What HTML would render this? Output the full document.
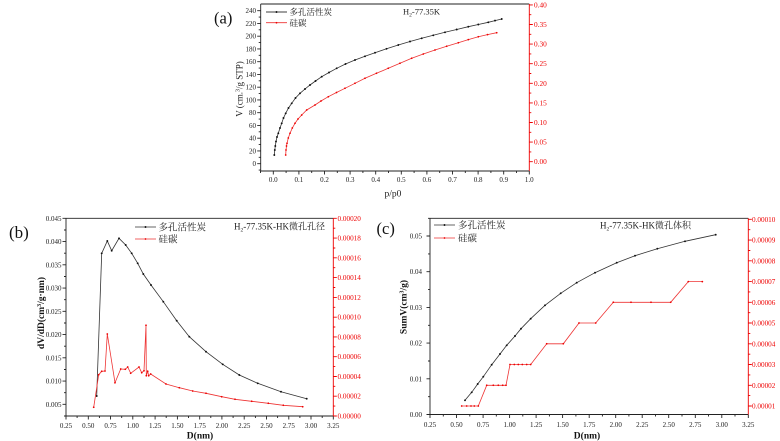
<!DOCTYPE html>
<html><head><meta charset="utf-8"><style>
html,body{margin:0;padding:0;background:#fff;}
svg{display:block;}
text{font-family:"Liberation Serif","Noto Serif CJK SC",serif;}
</style></head><body>
<svg width="780" height="441" viewBox="0 0 780 441" xmlns="http://www.w3.org/2000/svg">
<defs>
<marker id="mk" viewBox="-1.5 -1.5 3 3" markerWidth="2.6" markerHeight="2.6" markerUnits="userSpaceOnUse"><circle r="1.1" fill="#111"/></marker>
<marker id="mr" viewBox="-1.5 -1.5 3 3" markerWidth="2.4" markerHeight="2.4" markerUnits="userSpaceOnUse"><circle r="1.1" fill="#e00"/></marker>
</defs>
<rect width="780" height="441" fill="#fff"/>

<!-- ================= (a) ================= -->
<text x="214" y="23.5" font-size="16.5" fill="#111">(a)</text>
<g fill="none" stroke-width="0.9">
<path d="M260.7 4 H529.3 M260.7 4 V171 H529.3" stroke="#222"/>
<path d="M529.3 4 V171" stroke="#e00"/>
<path stroke="#222" d="M273.3 171v3.5M298.9 171v3.5M324.5 171v3.5M350.1 171v3.5M375.7 171v3.5M401.3 171v3.5M426.9 171v3.5M452.5 171v3.5M478.1 171v3.5M503.7 171v3.5M529.3 171v3.5
M260.5 171v2M286.1 171v2M311.7 171v2M337.3 171v2M362.9 171v2M388.5 171v2M414.1 171v2M439.7 171v2M465.3 171v2M490.9 171v2M516.5 171v2
M260.7 163.7h-3.5M260.7 150.95h-3.5M260.7 138.2h-3.5M260.7 125.45h-3.5M260.7 112.7h-3.5M260.7 99.95h-3.5M260.7 87.2h-3.5M260.7 74.45h-3.5M260.7 61.7h-3.5M260.7 48.95h-3.5M260.7 36.2h-3.5M260.7 23.45h-3.5M260.7 10.7h-3.5
M260.7 170.1h-2M260.7 157.3h-2M260.7 144.6h-2M260.7 131.8h-2M260.7 119.1h-2M260.7 106.3h-2M260.7 93.6h-2M260.7 80.8h-2M260.7 68.1h-2M260.7 55.3h-2M260.7 42.6h-2M260.7 29.8h-2M260.7 17.1h-2"/>
<path stroke="#e00" d="M529.3 161.7h3.5M529.3 142.1h3.5M529.3 122.5h3.5M529.3 102.9h3.5M529.3 83.3h3.5M529.3 63.7h3.5M529.3 44.1h3.5M529.3 24.5h3.5M529.3 4.9h3.5
M529.3 151.9h2M529.3 132.3h2M529.3 112.7h2M529.3 93.1h2M529.3 73.5h2M529.3 53.9h2M529.3 34.3h2M529.3 14.7h2"/>
</g>
<g font-size="7" fill="#222" text-anchor="middle">
<text x="273.3" y="182">0.0</text><text x="298.9" y="182">0.1</text><text x="324.5" y="182">0.2</text><text x="350.1" y="182">0.3</text><text x="375.7" y="182">0.4</text><text x="401.3" y="182">0.5</text><text x="426.9" y="182">0.6</text><text x="452.5" y="182">0.7</text><text x="478.1" y="182">0.8</text><text x="503.7" y="182">0.9</text><text x="529.3" y="182">1.0</text>
</g>
<g font-size="7" fill="#222" text-anchor="end">
<text x="256" y="166.1">0</text><text x="256" y="153.35">20</text><text x="256" y="140.6">40</text><text x="256" y="127.85">60</text><text x="256" y="115.1">80</text><text x="256" y="102.35">100</text><text x="256" y="89.6">120</text><text x="256" y="76.85">140</text><text x="256" y="64.1">160</text><text x="256" y="51.35">180</text><text x="256" y="38.6">200</text><text x="256" y="25.85">220</text><text x="256" y="13.1">240</text>
</g>
<g font-size="7.3" fill="#e00">
<text x="534" y="164.2">0.00</text><text x="534" y="144.6">0.05</text><text x="534" y="125">0.10</text><text x="534" y="105.4">0.15</text><text x="534" y="85.8">0.20</text><text x="534" y="66.2">0.25</text><text x="534" y="46.6">0.30</text><text x="534" y="27">0.35</text><text x="534" y="7.4">0.40</text>
</g>
<text x="393" y="196.5" font-size="9.5" fill="#222" text-anchor="middle">p/p0</text>
<text transform="translate(242.5,89) rotate(-90)" font-size="9" fill="#222" text-anchor="middle">V (cm.<tspan font-size="6" dy="-3">3</tspan><tspan dy="3">/g STP)</tspan></text>
<!-- legend a -->
<path d="M266 12H287" stroke="#333" stroke-width="0.8" marker-mid="url(#mk)"/>
<polyline points="266,12 276.5,12 287,12" fill="none" stroke="#333" stroke-width="0.8" marker-mid="url(#mk)"/>
<text x="289.5" y="15.2" font-size="8.5" fill="#222">多孔活性炭</text>
<polyline points="266,22.7 276.5,22.7 287,22.7" fill="none" stroke="#e33" stroke-width="0.8" marker-mid="url(#mr)"/>
<text x="289.5" y="25.9" font-size="8.5" fill="#222">硅碳</text>
<text x="403" y="14.5" font-size="8.5" fill="#222">H<tspan font-size="5.5" dy="2">2</tspan><tspan dy="-2">-77.35K</tspan></text>
<!-- series a -->
<polyline fill="none" stroke="#333" stroke-width="0.8" marker-start="url(#mk)" marker-mid="url(#mk)" marker-end="url(#mk)" points="274.3,155 274.8,150 275.3,146 276,141.5 277,137 278.3,133.3 280,128 281.7,123.3 283.5,118 285.7,113.3 288.5,108 291.7,103.3 295.5,98 300,93.3 305,89 310,85 315.5,81 321.7,76.7 329,72.5 336.7,68.3 345.5,64 355,60 365,56.3 375,52.7 386.5,48.8 398.3,45 410,41.5 421.7,38.3 433.3,35.3 445,32.3 456.7,29.5 468.3,26.7 478.3,24.5 488.3,22.3 495,20.6 501.7,19"/>
<polyline fill="none" stroke="#e33" stroke-width="0.8" marker-start="url(#mr)" marker-mid="url(#mr)" marker-end="url(#mr)" points="285.7,155 286,150 286.5,146 287,143.3 288.3,138 290,133.3 292.3,128 295,123.3 298,119 301.7,115 306.7,110 315,105 321,101 328.3,96.7 336.5,92.5 345,88.3 355,83.3 365,78.3 376.5,73.3 388.3,68.3 400,63.3 411.7,58.3 423.3,54 435,50 446.7,46.2 458.3,42.7 468.3,39.6 478.3,36.7 487.5,34.6 496.7,32.7"/>

<!-- ================= (b) ================= -->
<text x="9" y="238" font-size="17" fill="#111">(b)</text>
<g fill="none" stroke-width="0.9">
<path d="M66 218.3 H333.3 M66 218.3 V416 H333.3" stroke="#222"/>
<path d="M333.3 218.3 V416" stroke="#e00"/>
<path stroke="#222" d="M66 416v3.5M88.3 416v3.5M110.5 416v3.5M132.8 416v3.5M155.1 416v3.5M177.4 416v3.5M199.7 416v3.5M221.9 416v3.5M244.2 416v3.5M266.5 416v3.5M288.8 416v3.5M311 416v3.5M333.3 416v3.5
M77.1 416v2M99.4 416v2M121.7 416v2M144 416v2M166.2 416v2M188.5 416v2M210.8 416v2M233.1 416v2M255.4 416v2M277.6 416v2M299.9 416v2M322.2 416v2
M66 404.35h-3.5M66 381.1h-3.5M66 357.85h-3.5M66 334.6h-3.5M66 311.35h-3.5M66 288.1h-3.5M66 264.85h-3.5M66 241.6h-3.5M66 218.35h-3.5
M66 416h-2M66 392.7h-2M66 369.5h-2M66 346.2h-2M66 323h-2M66 299.7h-2M66 276.5h-2M66 253.2h-2M66 230h-2"/>
<path stroke="#e00" d="M333.3 416h3.5M333.3 396.2h3.5M333.3 376.5h3.5M333.3 356.7h3.5M333.3 336.9h3.5M333.3 317.2h3.5M333.3 297.4h3.5M333.3 277.6h3.5M333.3 257.8h3.5M333.3 238.1h3.5M333.3 218.3h3.5
M333.3 406.1h2M333.3 386.3h2M333.3 366.6h2M333.3 346.8h2M333.3 327h2M333.3 307.3h2M333.3 287.5h2M333.3 267.7h2M333.3 248h2M333.3 228.2h2"/>
</g>
<g font-size="7" fill="#222" text-anchor="middle">
<text x="66" y="428">0.25</text><text x="88.3" y="428">0.50</text><text x="110.5" y="428">0.75</text><text x="132.8" y="428">1.00</text><text x="155.1" y="428">1.25</text><text x="177.4" y="428">1.50</text><text x="199.7" y="428">1.75</text><text x="221.9" y="428">2.00</text><text x="244.2" y="428">2.25</text><text x="266.5" y="428">2.50</text><text x="288.8" y="428">2.75</text><text x="311" y="428">3.00</text><text x="333.3" y="428">3.25</text>
</g>
<g font-size="7" fill="#222" text-anchor="end">
<text x="61.5" y="406.8">0.005</text><text x="61.5" y="383.5">0.010</text><text x="61.5" y="360.3">0.015</text><text x="61.5" y="337">0.020</text><text x="61.5" y="313.8">0.025</text><text x="61.5" y="290.5">0.030</text><text x="61.5" y="267.3">0.035</text><text x="61.5" y="244">0.040</text><text x="61.5" y="220.8">0.045</text>
</g>
<g font-size="7.2" fill="#e00">
<text x="337.5" y="418.5">0.00000</text><text x="337.5" y="398.7">0.00002</text><text x="337.5" y="379">0.00004</text><text x="337.5" y="359.2">0.00006</text><text x="337.5" y="339.4">0.00008</text><text x="337.5" y="319.7">0.00010</text><text x="337.5" y="299.9">0.00012</text><text x="337.5" y="280.1">0.00014</text><text x="337.5" y="260.3">0.00016</text><text x="337.5" y="240.6">0.00018</text><text x="337.5" y="220.8">0.00020</text>
</g>
<text x="200" y="438.5" font-size="9.5" font-weight="bold" fill="#111" text-anchor="middle">D(nm)</text>
<text transform="translate(44,313) rotate(-90)" font-size="9.5" font-weight="bold" fill="#111" text-anchor="middle">dV/dD(cm<tspan font-size="6" dy="-3">3</tspan><tspan dy="3">/g·nm)</tspan></text>
<!-- legend b -->
<polyline points="135,227 145.5,227 156,227" fill="none" stroke="#333" stroke-width="0.8" marker-mid="url(#mk)"/>
<text x="158.5" y="230.5" font-size="9.5" fill="#222">多孔活性炭</text>
<polyline points="135,239 145.5,239 156,239" fill="none" stroke="#e33" stroke-width="0.8" marker-mid="url(#mr)"/>
<text x="158.5" y="242.5" font-size="9.5" fill="#222">硅碳</text>
<text x="234" y="229.5" font-size="9" fill="#222">H<tspan font-size="5.5" dy="2">2</tspan><tspan dy="-2">-77.35K-HK微孔孔径</tspan></text>
<!-- series b -->
<polyline fill="none" stroke="#333" stroke-width="0.8" marker-start="url(#mk)" marker-mid="url(#mk)" marker-end="url(#mk)" points="96.7,396 101.7,253.3 107.3,241 111.7,250.7 119,238.3 125.7,245 131.7,253.3 137.7,263.3 143.3,274 151,285 163.3,301.7 176.7,320.7 189.3,336.7 206,351.7 222.7,364.3 239.3,375 257.7,383.3 281,391.7 306.7,398.7"/>
<polyline fill="none" stroke="#e33" stroke-width="0.8" marker-start="url(#mr)" marker-mid="url(#mr)" marker-end="url(#mr)" points="93.7,407.3 98.7,374.7 101.7,371.3 105,371 107.3,334 115,382.7 120.7,369 125.3,369.3 127.7,367 130.7,373.3 139,367 141.7,372.7 144,370.7 146,325.3 146.3,375.7 147.7,371.3 148.7,375.7 150.7,374 166,384 179.3,387.7 192.7,391 206,393.3 221.7,396.7 235,399.3 251.7,401.3 268.3,403.3 283.3,405.3 302.7,406.7"/>

<!-- ================= (c) ================= -->
<text x="376.5" y="234" font-size="16.5" fill="#111">(c)</text>
<g fill="none" stroke-width="0.9">
<path d="M430 218.3 H748.3 M430 218.3 V414.5 H748.3" stroke="#222"/>
<path d="M748.3 218.3 V414.5" stroke="#e00"/>
<path stroke="#222" d="M430 414.5v3.5M456.5 414.5v3.5M483.1 414.5v3.5M509.6 414.5v3.5M536.1 414.5v3.5M562.6 414.5v3.5M589.2 414.5v3.5M615.7 414.5v3.5M642.2 414.5v3.5M668.7 414.5v3.5M695.3 414.5v3.5M721.8 414.5v3.5M748.3 414.5v3.5
M443.3 414.5v2M469.8 414.5v2M496.3 414.5v2M522.8 414.5v2M549.4 414.5v2M575.9 414.5v2M602.4 414.5v2M628.9 414.5v2M655.5 414.5v2M682 414.5v2M708.5 414.5v2M735 414.5v2
M430 414.5h-3.5M430 378.8h-3.5M430 343.1h-3.5M430 307.4h-3.5M430 271.7h-3.5M430 236h-3.5
M430 396.7h-2M430 361h-2M430 325.3h-2M430 289.6h-2M430 253.9h-2M430 218.3h-2"/>
<path stroke="#e00" d="M748.3 406h3.5M748.3 385.3h3.5M748.3 364.5h3.5M748.3 343.8h3.5M748.3 323h3.5M748.3 302.3h3.5M748.3 281.6h3.5M748.3 260.8h3.5M748.3 240.1h3.5M748.3 219.3h3.5
M748.3 395.6h2M748.3 374.9h2M748.3 354.2h2M748.3 333.4h2M748.3 312.7h2M748.3 291.9h2M748.3 271.2h2M748.3 250.5h2M748.3 229.7h2"/>
</g>
<g font-size="7" fill="#222" text-anchor="middle">
<text x="430" y="427">0.25</text><text x="456.5" y="427">0.50</text><text x="483.1" y="427">0.75</text><text x="509.6" y="427">1.00</text><text x="536.1" y="427">1.25</text><text x="562.6" y="427">1.50</text><text x="589.2" y="427">1.75</text><text x="615.7" y="427">2.00</text><text x="642.2" y="427">2.25</text><text x="668.7" y="427">2.50</text><text x="695.3" y="427">2.75</text><text x="721.8" y="427">3.00</text><text x="748.3" y="427">3.25</text>
</g>
<g font-size="7" fill="#222" text-anchor="end">
<text x="422" y="417">0.00</text><text x="422" y="381.3">0.01</text><text x="422" y="345.6">0.02</text><text x="422" y="309.9">0.03</text><text x="422" y="274.2">0.04</text><text x="422" y="238.5">0.05</text>
</g>
<g font-size="7.2" fill="#e00">
<text x="752" y="408.5">0.00001</text><text x="752" y="387.8">0.00002</text><text x="752" y="367">0.00003</text><text x="752" y="346.3">0.00004</text><text x="752" y="325.5">0.00005</text><text x="752" y="304.8">0.00006</text><text x="752" y="284.1">0.00007</text><text x="752" y="263.3">0.00008</text><text x="752" y="242.6">0.00009</text><text x="752" y="221.8">0.00010</text>
</g>
<text x="587" y="438.5" font-size="9.5" font-weight="bold" fill="#111" text-anchor="middle">D(nm)</text>
<text transform="translate(406.5,307) rotate(-90)" font-size="9.5" font-weight="bold" fill="#111" text-anchor="middle">SumV(cm<tspan font-size="6" dy="-3">3</tspan><tspan dy="3">/g)</tspan></text>
<!-- legend c -->
<polyline points="434,225 444.5,225 455,225" fill="none" stroke="#333" stroke-width="0.8" marker-mid="url(#mk)"/>
<text x="458" y="228.5" font-size="9.5" fill="#222">多孔活性炭</text>
<polyline points="434,238 444.5,238 455,238" fill="none" stroke="#e33" stroke-width="0.8" marker-mid="url(#mr)"/>
<text x="458" y="241.5" font-size="9.5" fill="#222">硅碳</text>
<text x="600" y="228.5" font-size="9" fill="#222">H<tspan font-size="5.5" dy="2">2</tspan><tspan dy="-2">-77.35K-HK微孔体积</tspan></text>
<!-- series c -->
<polyline fill="none" stroke="#333" stroke-width="0.8" marker-start="url(#mk)" marker-mid="url(#mk)" marker-end="url(#mk)" points="465,400.3 471.7,392.3 477.7,384 483.3,376.7 491.7,364.7 500,354 506.7,345.3 515,336 521,328.7 530.7,318.7 545,305.3 560.7,293.3 576.7,282.7 595,272.7 616.7,262.7 635,255.7 657.3,248.7 685,241.3 715.7,234.7"/>
<polyline fill="none" stroke="#e33" stroke-width="0.8" marker-start="url(#mr)" marker-mid="url(#mr)" marker-end="url(#mr)" points="461.7,406 466.7,406 471,406 474.3,406 478.3,406 486.7,385.3 493.3,385.3 498.3,385.3 502.7,385.3 506,385.3 510,364.5 514.3,364.5 518.3,364.5 522.3,364.5 526.7,364.5 530.7,364.5 546.7,343.8 563.3,343.8 579,323 595.7,323 613.3,302.3 631,302.3 651,302.3 670.7,302.3 688.3,281.6 702.3,281.6"/>
</svg>
</body></html>
